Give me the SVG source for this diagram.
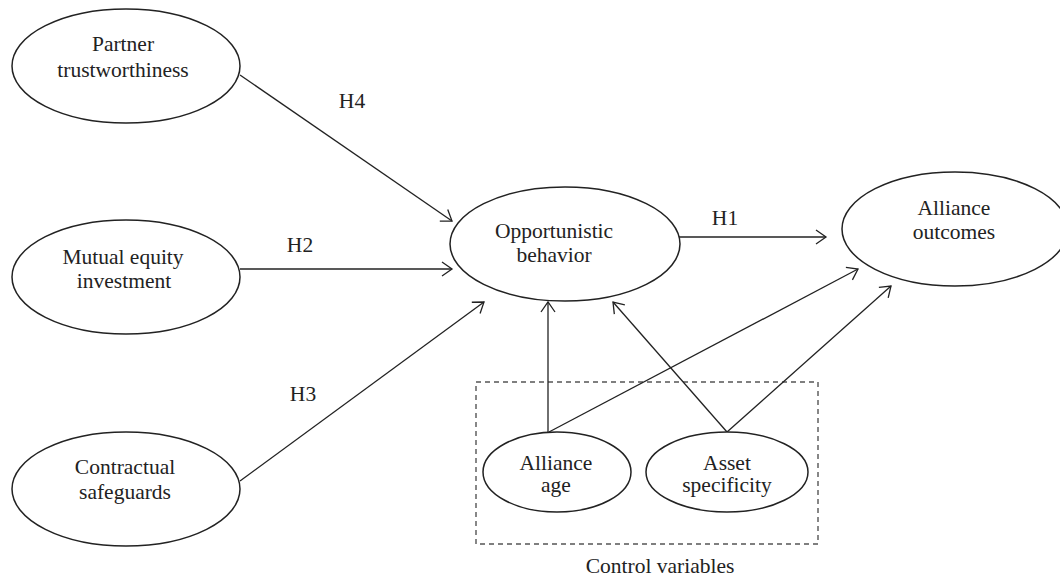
<svg xmlns="http://www.w3.org/2000/svg" width="1060" height="581" viewBox="0 0 1060 581">
<style>
.node ellipse{fill:#fff;stroke:#222;stroke-width:1.5}
text{font-family:"Liberation Serif","Times New Roman",serif;font-size:21.5px;fill:#222;text-anchor:middle}
.conn line{stroke:#222;stroke-width:1.3;fill:none}
.box{fill:none;stroke:#555;stroke-width:1.4;stroke-dasharray:5,4}
</style>
<defs>
<marker id="arr" markerUnits="userSpaceOnUse" markerWidth="14" markerHeight="18" refX="11" refY="8" orient="auto" viewBox="0 0 14 16">
<path d="M1,1 L11,8 L1,15" fill="none" stroke="#222" stroke-width="1.3"/>
</marker>
</defs>
<rect class="box" x="476" y="382" width="342" height="162"/>
<text x="660" y="573">Control variables</text>
<g class="conn">
<line x1="240" y1="75" x2="452" y2="221" marker-end="url(#arr)"/>
<line x1="240" y1="269" x2="452" y2="269" marker-end="url(#arr)"/>
<line x1="240" y1="481" x2="484" y2="302" marker-end="url(#arr)"/>
<line x1="679" y1="237" x2="826" y2="237" marker-end="url(#arr)"/>
<line x1="548" y1="432" x2="548" y2="302" marker-end="url(#arr)"/>
<line x1="549" y1="432" x2="858" y2="269" marker-end="url(#arr)"/>
<line x1="727" y1="432" x2="613" y2="302" marker-end="url(#arr)"/>
<line x1="727" y1="432" x2="891" y2="286" marker-end="url(#arr)"/>
<text x="352" y="108">H4</text>
<text x="300" y="252">H2</text>
<text x="303" y="401">H3</text>
<text x="725" y="225">H1</text>
</g>
<g id="partner" class="node">
<ellipse cx="126" cy="66" rx="114" ry="57"/>
<text x="123" y="51">Partner</text>
<text x="123" y="77">trustworthiness</text>
</g>
<g id="mutual" class="node">
<ellipse cx="126" cy="277" rx="114" ry="57"/>
<text x="123" y="264">Mutual equity</text>
<text x="124" y="288">investment</text>
</g>
<g id="contractual" class="node">
<ellipse cx="126" cy="489" rx="114" ry="57"/>
<text x="125" y="474">Contractual</text>
<text x="125" y="499">safeguards</text>
</g>
<g id="opportunistic" class="node">
<ellipse cx="565" cy="244" rx="115" ry="57"/>
<text x="554" y="238">Opportunistic</text>
<text x="554" y="262">behavior</text>
</g>
<g id="outcomes" class="node">
<ellipse cx="955" cy="229" rx="113" ry="57"/>
<text x="954" y="215">Alliance</text>
<text x="954" y="239">outcomes</text>
</g>
<g id="age" class="node">
<ellipse cx="557" cy="472" rx="74" ry="40"/>
<text x="556" y="470">Alliance</text>
<text x="556" y="492">age</text>
</g>
<g id="asset" class="node">
<ellipse cx="727" cy="472" rx="81" ry="40"/>
<text x="727" y="470">Asset</text>
<text x="727" y="492">specificity</text>
</g>
</svg>
